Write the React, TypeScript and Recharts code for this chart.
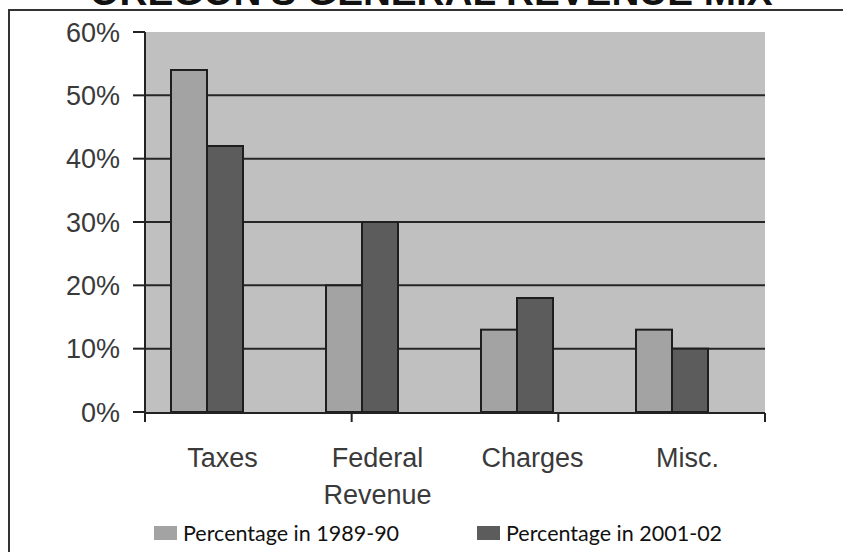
import React from 'react';
import { BarChart, Bar, XAxis, YAxis, CartesianGrid, Legend } from 'recharts';

const categories = ['Taxes', 'Federal Revenue', 'Charges', 'Misc.'];
const pct1989 = [54, 20, 13, 13];
const pct2001 = [42, 30, 18, 10];
const yTicks = [0, 10, 20, 30, 40, 50, 60];
const gridValues = [10, 20, 30, 40, 50];
const edgeTicks = [0, 1, 2, 3, 4];
const seriesNames = ['Percentage in 1989-90', 'Percentage in 2001-02'];

const data = categories.map((name, i) => ({ name, a: pct1989[i], b: pct2001[i] }));

const LIGHT = '#a3a3a3';
const DARK = '#5c5c5c';
const BAR_SHIFT = 16; // bars sit a little left of the band centre in the original
const LABEL_FONT = "'Liberation Sans', Arial, sans-serif";

const ShiftedBar = (props: any) => {
  const { x, y, width, height, fill } = props;
  if (!height) return null;
  return (
    <rect x={x - BAR_SHIFT} y={y} width={width} height={height} fill={fill} stroke="#1e1e1e" strokeWidth={2} />
  );
};

const CategoryTick = (props: any) => {
  const { x, y, payload } = props;
  const lines = String(payload.value).split(' ');
  return (
    <text x={x} y={y} textAnchor="middle" fill="#3a3a3a" fontSize={27} fontFamily={LABEL_FONT}>
      {lines.map((l, i) => (
        <tspan key={i} x={x} dy={i === 0 ? 55 : 37}>{l}</tspan>
      ))}
    </text>
  );
};

const LegendContent = () => {
  const lefts = [154, 477];
  const colors = [LIGHT, DARK];
  return (
    <div style={{ position: 'relative', width: 843, height: 30 }}>
      {seriesNames.map((n, i) => (
        <div key={n} style={{ position: 'absolute', left: lefts[i], top: 0, display: 'flex', alignItems: 'center', whiteSpace: 'nowrap' }}>
          <span style={{ display: 'inline-block', width: 23, height: 14, background: colors[i], marginRight: 6 }} />
          <span style={{ fontFamily: 'Lato, sans-serif', fontSize: 21.5, color: '#111' }}>{n}</span>
        </div>
      ))}
    </div>
  );
};

export default function App() {
  return (
    <div style={{ position: 'absolute', left: 0, top: 0, width: 843, height: 552, overflow: 'hidden', background: '#fff' }}>
      <svg width={843} height={552} style={{ position: 'absolute', left: 0, top: 0 }}>
        <text x={431} y={5} textAnchor="middle" fontFamily={LABEL_FONT} fontWeight="bold" fontSize={38} textLength={683} lengthAdjust="spacingAndGlyphs" fill="#111">
          OREGON'S GENERAL REVENUE MIX
        </text>
        <line x1={8} y1={10} x2={843} y2={10} stroke="#333" strokeWidth={2} />
        <line x1={9} y1={10} x2={9} y2={552} stroke="#333" strokeWidth={2} />
      </svg>
      <div style={{ position: 'absolute', left: 0, top: 0 }}>
        <BarChart
          width={843}
          height={552}
          data={data}
          margin={{ top: 32, right: 78, bottom: 138, left: 0 }}
          barGap={0}
          barSize={36}
        >
          <CartesianGrid vertical={false} horizontalValues={gridValues} fill="#c0c0c0" stroke="#262626" strokeWidth={2} />
          <XAxis
            xAxisId="edge"
            type="number"
            domain={[0, 4]}
            allowDataOverflow
            ticks={edgeTicks}
            interval={0}
            tick={<g />}
            height={1}
            tickSize={9}
            axisLine={{ stroke: '#222', strokeWidth: 2 }}
            tickLine={{ stroke: '#222', strokeWidth: 2 }}
          />
          <XAxis dataKey="name" height={1} axisLine={false} tickLine={false} tickSize={0} tickMargin={0} interval={0} tick={<CategoryTick />} />
          <YAxis
            width={145}
            domain={[0, 60]}
            ticks={yTicks}
            interval={0}
            tickFormatter={(v: number) => `${v}%`}
            tickSize={12}
            tickMargin={13}
            axisLine={{ stroke: '#222', strokeWidth: 2 }}
            tickLine={{ stroke: '#222', strokeWidth: 2 }}
            tick={{ fill: '#3a3a3a', fontSize: 27, fontFamily: LABEL_FONT }}
          />
          <Legend
            verticalAlign="middle"
            align="center"
            layout="horizontal"
            wrapperStyle={{ top: 520, left: 0, width: 843 }}
            content={<LegendContent />}
          />
          <Bar dataKey="a" name={seriesNames[0]} fill={LIGHT} shape={<ShiftedBar />} isAnimationActive={false} />
          <Bar dataKey="b" name={seriesNames[1]} fill={DARK} shape={<ShiftedBar />} isAnimationActive={false} />
        </BarChart>
      </div>
    </div>
  );
}
